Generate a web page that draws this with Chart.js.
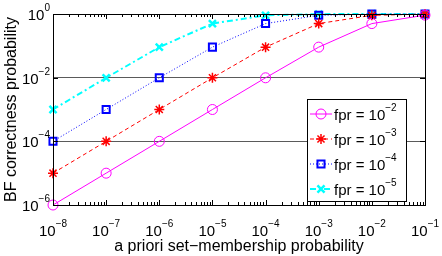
<!DOCTYPE html>
<html lang="en">
  <head>
    <meta charset="UTF-8" />
    <title>BF correctness probability</title>
    <style>
      html, body { margin: 0; padding: 0; background: #fff; }
      #wrap { width: 442px; height: 256px; }
    </style>
  </head>
  <body>
    <div id="wrap"><canvas id="myChart"></canvas></div>
    <script src="https://cdn.jsdelivr.net/npm/chart.js"></script>
    <script>
      // a priori set-membership probability
      const priors = [1e-8, 1e-7, 1e-6, 1e-5, 1e-4, 1e-3, 1e-2, 1e-1];
      // BF correctness probability, one array per false positive rate
      const fpr2 = [1e-6, 1e-5, 1e-4, 1e-3, 0.0099, 0.091, 0.5, 0.92];
      const fpr3 = [1e-5, 1e-4, 1e-3, 0.0099, 0.091, 0.5, 0.91, 0.99];
      const fpr4 = [1e-4, 1e-3, 0.0099, 0.091, 0.5, 0.91, 0.99, 0.999];
      const fpr5 = [1e-3, 0.0099, 0.091, 0.5, 0.91, 0.99, 0.999, 1];
      const legendExps = [-2, -3, -4, -5];
      const xTickExps = [-8, -7, -6, -5, -4, -3, -2, -1];
      const yTickExps = [-6, -4, -2, 0];

      const FONT = "Liberation Sans, Arial, sans-serif";

      function toPoints(ys) {
        return priors.map((x, i) => ({ x: x, y: ys[i] }));
      }

      function drawPow(ctx, exp, x, y, align) {
        // "10" with a raised exponent
        const base = "10";
        const sup = exp < 0 ? "\u2212" + Math.abs(exp) : String(exp);
        ctx.font = "15px " + FONT;
        const wb = ctx.measureText(base).width;
        ctx.font = "10px " + FONT;
        const ws = ctx.measureText(sup).width;
        let left = x;
        if (align === "center") left = x - (wb + ws) / 2;
        if (align === "right") left = x - (wb + ws);
        ctx.textAlign = "left";
        ctx.textBaseline = "alphabetic";
        ctx.fillStyle = "#000";
        ctx.font = "15px " + FONT;
        ctx.fillText(base, left, y);
        ctx.font = "10px " + FONT;
        ctx.fillText(sup, left + wb, y - 9);
      }

      const frame = {
        id: "frame",
        afterDraw(chart) {
          const ctx = chart.ctx;
          const a = chart.chartArea;
          const xs = chart.scales.x;
          const ys = chart.scales.y;
          ctx.save();
          ctx.strokeStyle = "#000";
          ctx.lineWidth = 1;
          ctx.strokeRect(a.left + 0.5, a.top + 0.5, a.right - a.left, a.bottom - a.top);

          // x ticks (inside, top and bottom)
          ctx.beginPath();
          xTickExps.forEach(e => {
            for (let m = 1; m <= 9; m++) {
              const v = m * Math.pow(10, e);
              if (v > 1e-1 * 1.0001) continue;
              const px = Math.round(xs.getPixelForValue(v)) + 0.5;
              const len = m === 1 ? 5 : 3;
              ctx.moveTo(px, a.bottom);
              ctx.lineTo(px, a.bottom - len);
              ctx.moveTo(px, a.top);
              ctx.lineTo(px, a.top + len);
            }
          });
          // y ticks (inside, left and right)
          yTickExps.forEach(e => {
            const py = Math.round(ys.getPixelForValue(Math.pow(10, e))) + 0.5;
            ctx.moveTo(a.left, py);
            ctx.lineTo(a.left + 5, py);
            ctx.moveTo(a.right, py);
            ctx.lineTo(a.right - 5, py);
          });
          ctx.stroke();

          // tick labels
          xTickExps.forEach(e => {
            drawPow(ctx, e, xs.getPixelForValue(Math.pow(10, e)), 236, "center");
          });
          yTickExps.forEach(e => {
            drawPow(ctx, e, a.left - 3, ys.getPixelForValue(Math.pow(10, e)) + 6, "right");
          });

          // axis titles
          ctx.fillStyle = "#000";
          ctx.font = "16px " + FONT;
          ctx.textAlign = "center";
          ctx.textBaseline = "alphabetic";
          ctx.fillText("a priori set\u2212membership probability", (a.left + a.right) / 2, 251);
          ctx.save();
          ctx.translate(16, (a.top + a.bottom) / 2);
          ctx.rotate(-Math.PI / 2);
          ctx.fillText("BF correctness probability", 0, 0);
          ctx.restore();

          // legend
          const lx = 307, ly = 99, lw = 99, lh = 102;
          ctx.fillStyle = "#fff";
          ctx.fillRect(lx, ly, lw, lh);
          ctx.strokeStyle = "#000";
          ctx.lineWidth = 1;
          ctx.strokeRect(lx + 0.5, ly + 0.5, lw, lh);
          chart.data.datasets.forEach((ds, i) => {
            const cy = 114 + i * 25;
            ctx.save();
            ctx.strokeStyle = ds.borderColor;
            ctx.lineWidth = ds.borderWidth;
            ctx.setLineDash(ds.borderDash || []);
            ctx.beginPath();
            ctx.moveTo(lx + 3, cy);
            ctx.lineTo(lx + 25, cy);
            ctx.stroke();
            ctx.restore();
            ctx.save();
            ctx.fillStyle = "rgba(0,0,0,0)";
            ctx.strokeStyle = ds.borderColor;
            ctx.lineWidth = ds.pointBorderWidth;
            Chart.helpers.drawPoint(ctx, {
              pointStyle: ds.pointStyle,
              radius: ds.pointRadius,
              borderWidth: ds.pointBorderWidth,
              rotation: 0
            }, lx + 14, cy);
            ctx.restore();
            ctx.fillStyle = "#000";
            ctx.font = "15px " + FONT;
            ctx.textAlign = "left";
            const t = "fpr = ";
            ctx.fillText(t, lx + 27, cy + 6);
            const w = ctx.measureText(t).width;
            drawPow(ctx, legendExps[i], lx + 27 + w, cy + 6, "left");
          });
          ctx.restore();
        }
      };

      const ctx = document.getElementById("myChart");

      new Chart(ctx, {
        type: "line",
        data: {
          datasets: [
            {
              label: "fpr = 10^-2",
              data: toPoints(fpr2),
              borderColor: "#ff00ff",
              backgroundColor: "transparent",
              borderWidth: 1,
              pointStyle: "circle",
              pointRadius: 5,
              pointBorderWidth: 1,
              clip: false
            },
            {
              label: "fpr = 10^-3",
              data: toPoints(fpr3),
              borderColor: "#ff0000",
              backgroundColor: "transparent",
              borderWidth: 1,
              borderDash: [4, 3],
              pointStyle: "star",
              pointRadius: 5,
              pointBorderWidth: 1.5,
              clip: false
            },
            {
              label: "fpr = 10^-4",
              data: toPoints(fpr4),
              borderColor: "#0000ff",
              backgroundColor: "transparent",
              borderWidth: 1,
              borderDash: [1, 2],
              pointStyle: "rect",
              pointRadius: 5,
              pointBorderWidth: 2,
              clip: false
            },
            {
              label: "fpr = 10^-5",
              data: toPoints(fpr5),
              borderColor: "#00ffff",
              backgroundColor: "transparent",
              borderWidth: 2,
              borderDash: [6, 3, 2, 3],
              pointStyle: "crossRot",
              pointRadius: 5,
              pointBorderWidth: 2.5,
              clip: false
            }
          ]
        },
        options: {
          responsive: true,
          maintainAspectRatio: false,
          animation: false,
          layout: { padding: { left: 53, right: 17, top: 14, bottom: 43 } },
          plugins: {
            legend: { display: false },
            tooltip: { enabled: false }
          },
          elements: { line: { tension: 0 } },
          scales: {
            x: {
              type: "logarithmic",
              min: 1e-8,
              max: 1e-1,
              ticks: { display: false },
              grid: { display: false },
              border: { display: false }
            },
            y: {
              type: "logarithmic",
              min: 1e-6,
              max: 1,
              afterBuildTicks: axis => {
                axis.ticks = yTickExps.map(e => ({ value: Math.pow(10, e) }));
              },
              ticks: { display: false },
              grid: {
                drawTicks: false,
                lineWidth: 1,
                color: c => {
                  const v = c.tick ? c.tick.value : 0;
                  return v === 1e-2 || v === 1e-4 ? "#5a5a5a" : "rgba(0,0,0,0)";
                }
              },
              border: { display: false }
            }
          }
        },
        plugins: [frame]
      });
    </script>
  </body>
</html>
